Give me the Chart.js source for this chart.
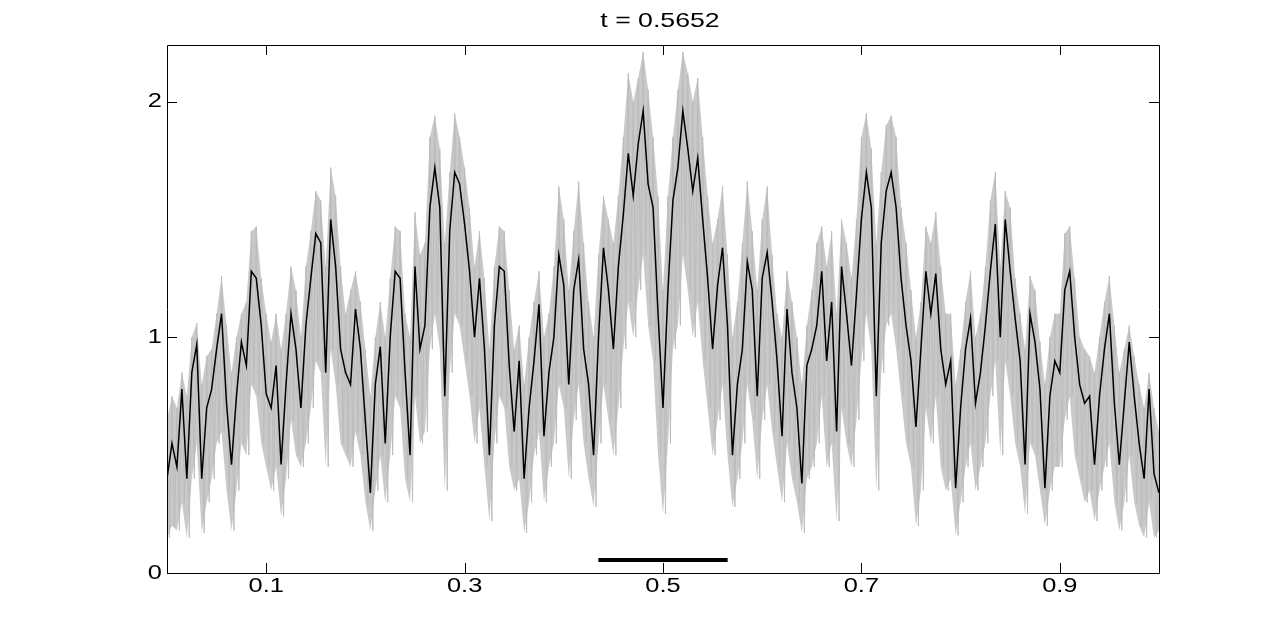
<!DOCTYPE html>
<html>
<head>
<meta charset="utf-8">
<script src="https://cdn.jsdelivr.net/npm/chart.js@4.4.0/dist/chart.umd.min.js"></script>
<style>
  html, body { margin: 0; padding: 0; background: #fff; }
  #wrap { width: 1281px; height: 644px; }
</style>
</head>
<body>
<div id="wrap"><canvas id="chart" width="1281" height="644"></canvas></div>
<script>
// sample spacing along x (0 .. 1)
const step = 0.005;

// black curve, one value per sample
const meanCurve = [
  0.40, 0.55, 0.45, 0.78, 0.40, 0.85, 0.97, 0.40, 0.70, 0.78,
  0.95, 1.10, 0.72, 0.46, 0.75, 0.98, 0.88, 1.28, 1.25, 1.05,
  0.76, 0.70, 0.88, 0.46, 0.80, 1.10, 0.95, 0.70, 1.05, 1.25,
  1.44, 1.40, 0.85, 1.50, 1.30, 0.95, 0.85, 0.80, 1.12, 0.95,
  0.64, 0.34, 0.80, 0.96, 0.55, 1.00, 1.28, 1.25, 0.85, 0.50,
  1.30, 0.95, 1.05, 1.55, 1.72, 1.55, 0.75, 1.45, 1.70, 1.65,
  1.48, 1.28, 1.00, 1.25, 0.95, 0.50, 1.05, 1.30, 1.28, 0.88,
  0.60, 0.90, 0.40, 0.70, 0.90, 1.14, 0.58, 0.85, 1.00, 1.35,
  1.22, 0.80, 1.20, 1.33, 0.95, 0.80, 0.50, 1.00, 1.38, 1.20,
  0.95, 1.30, 1.52, 1.78, 1.60, 1.82, 1.96, 1.65, 1.55, 1.10,
  0.70,
  1.20, 1.58, 1.72, 1.96, 1.80, 1.62, 1.76, 1.50, 1.25,
  0.95, 1.22, 1.38, 1.05, 0.50, 0.80, 0.95, 1.32, 1.20, 0.75,
  1.25, 1.36, 1.15, 0.90, 0.58, 1.12, 0.85, 0.70, 0.38, 0.88,
  0.95, 1.05, 1.28, 0.90, 1.15, 0.60, 1.30, 1.10, 0.88, 1.18,
  1.50, 1.70, 1.55, 0.75, 1.40, 1.62, 1.70, 1.55, 1.25, 1.05,
  0.90, 0.62, 0.95, 1.28, 1.10, 1.27, 0.95, 0.80, 0.90, 0.36,
  0.70, 0.95, 1.08, 0.72, 0.85, 1.05, 1.28, 1.48, 1.00, 1.50,
  1.28, 1.08, 0.90, 0.46, 1.10, 0.98, 0.78, 0.36, 0.75, 0.90,
  0.85, 1.20, 1.28, 1.00, 0.80, 0.72, 0.75, 0.46, 0.75, 0.95,
  1.10, 0.72, 0.46, 0.72, 0.98, 0.75, 0.55, 0.40, 0.78, 0.42,
  0.34
];

// grey band, top and bottom of the spikes at each sample
const bandHigh = [
  0.65, 0.75, 0.70, 0.85, 0.75, 1.00, 1.06, 0.80, 0.92, 0.95,
  1.10, 1.26, 1.05, 0.85, 1.00, 1.10, 1.15, 1.45, 1.47, 1.25,
  1.10, 0.98, 1.10, 0.95, 1.10, 1.30, 1.20, 1.00, 1.30, 1.45,
  1.62, 1.58, 1.30, 1.72, 1.60, 1.30, 1.10, 1.20, 1.28, 1.15,
  0.95, 0.75, 1.00, 1.15, 1.00, 1.25, 1.47, 1.45, 1.10, 1.00,
  1.53, 1.35, 1.40, 1.85, 1.94, 1.80, 1.40, 1.70, 1.95, 1.85,
  1.72, 1.55, 1.30, 1.45, 1.25, 0.95, 1.30, 1.47, 1.45, 1.20,
  0.95, 1.05, 0.80, 1.00, 1.15, 1.28, 1.00, 1.10, 1.30, 1.64,
  1.50, 1.20, 1.45, 1.66, 1.40, 1.15, 1.00, 1.35, 1.60, 1.50,
  1.40, 1.60, 1.85, 2.12, 2.00, 2.10, 2.21, 2.05, 1.85, 1.60,
  1.20,
  1.60, 1.85, 2.05, 2.21, 2.12, 2.00, 2.10, 1.85, 1.60,
  1.40, 1.50, 1.64, 1.35, 1.00, 1.15, 1.40, 1.66, 1.45, 1.20,
  1.50, 1.64, 1.35, 1.10, 1.00, 1.28, 1.15, 1.00, 0.80, 1.05,
  1.20, 1.40, 1.47, 1.30, 1.45, 1.10, 1.50, 1.40, 1.25, 1.50,
  1.85, 1.95, 1.80, 1.40, 1.70, 1.90, 1.94, 1.85, 1.55, 1.40,
  1.20, 1.00, 1.15, 1.47, 1.40, 1.53, 1.30, 1.10, 1.10, 0.80,
  0.95, 1.15, 1.28, 1.00, 1.10, 1.30, 1.58, 1.70, 1.30, 1.62,
  1.55, 1.25, 1.10, 0.95, 1.26, 1.20, 0.98, 0.80, 1.00, 1.10,
  1.10, 1.44, 1.47, 1.25, 1.00, 0.95, 0.92, 0.85, 1.00, 1.15,
  1.26, 1.05, 0.85, 0.95, 1.05, 0.92, 0.80, 0.70, 0.85, 0.70,
  0.60
];

const bandLow = [
  0.15, 0.20, 0.18, 0.30, 0.15, 0.40, 0.55, 0.17, 0.30, 0.40,
  0.55, 0.60, 0.35, 0.18, 0.35, 0.55, 0.50, 0.80, 0.75, 0.55,
  0.45, 0.35, 0.45, 0.24, 0.40, 0.65, 0.50, 0.45, 0.55, 0.70,
  0.90, 0.85, 0.45, 0.95, 0.80, 0.55, 0.50, 0.45, 0.60, 0.50,
  0.30, 0.18, 0.35, 0.50, 0.30, 0.50, 0.75, 0.70, 0.40, 0.30,
  0.75, 0.55, 0.60, 0.95, 1.10, 0.95, 0.35, 0.85, 1.10, 1.05,
  0.90, 0.75, 0.55, 0.70, 0.45, 0.22, 0.55, 0.75, 0.70, 0.45,
  0.35, 0.40, 0.17, 0.30, 0.50, 0.60, 0.30, 0.45, 0.55, 0.80,
  0.70, 0.40, 0.65, 0.80, 0.55, 0.40, 0.28, 0.55, 0.80, 0.65,
  0.50, 0.70, 0.95, 1.15, 1.00, 1.20, 1.35, 1.05, 0.90, 0.50,
  0.25,
  0.55, 0.95, 1.05, 1.35, 1.20, 1.00, 1.15, 0.90, 0.70,
  0.50, 0.65, 0.80, 0.50, 0.28, 0.40, 0.55, 0.80, 0.65, 0.40,
  0.65, 0.80, 0.60, 0.45, 0.30, 0.55, 0.40, 0.30, 0.17, 0.40,
  0.45, 0.55, 0.75, 0.45, 0.55, 0.22, 0.70, 0.55, 0.45, 0.65,
  0.90, 1.10, 0.95, 0.35, 0.85, 1.05, 1.10, 0.95, 0.75, 0.55,
  0.45, 0.20, 0.35, 0.70, 0.55, 0.75, 0.45, 0.35, 0.40, 0.16,
  0.30, 0.45, 0.55, 0.35, 0.45, 0.55, 0.75, 0.90, 0.50, 0.90,
  0.75, 0.55, 0.45, 0.25, 0.55, 0.50, 0.35, 0.20, 0.35, 0.45,
  0.45, 0.65, 0.75, 0.50, 0.40, 0.30, 0.35, 0.22, 0.35, 0.45,
  0.55, 0.30, 0.18, 0.30, 0.50, 0.30, 0.20, 0.15, 0.30, 0.15,
  0.18
];

// thick black marker under the middle peaks
const markerX = [0.4348, 0.5652];
const markerY = [0.055, 0.055];

const xTicks = [0.1, 0.3, 0.5, 0.7, 0.9];
const yTicks = [0, 1, 2];
const titleText = 't = 0.5652';

const FONT = '"Liberation Sans", Arial, Helvetica, sans-serif';
const STRETCH = 1.27; // the original figure's text is widened horizontally

// grey spikes: top at each sample, bottom half a step later
const spikePoints = [];
bandHigh.forEach((h, i) => {
  spikePoints.push({x: i * step, y: h});
  spikePoints.push({x: Math.min(1, (i + 0.5) * step), y: bandLow[i]});
});
const highPoints = bandHigh.map((v, i) => ({x: i * step, y: v}));
const lowPoints = bandLow.map((v, i) => ({x: i * step, y: v}));
const meanPoints = meanCurve.map((v, i) => ({x: i * step, y: v}));
const markerPoints = markerX.map((v, i) => ({x: v, y: markerY[i]}));

function wideText(ctx, text, x, y, align) {
  ctx.save();
  ctx.translate(x, y);
  ctx.scale(STRETCH, 1);
  ctx.textAlign = align;
  ctx.fillText(text, 0, 0);
  ctx.restore();
}

// box with inward ticks, tick labels and title
const matlabFrame = {
  id: 'matlabFrame',
  afterDraw(chart) {
    const {ctx, chartArea: a, scales: {x, y}} = chart;
    const len = 10;
    ctx.save();
    ctx.strokeStyle = '#000';
    ctx.lineWidth = 1;
    ctx.beginPath();
    ctx.rect(Math.round(a.left) + 0.5, Math.round(a.top) + 0.5,
             Math.round(a.right - a.left), Math.round(a.bottom - a.top));
    xTicks.forEach(v => {
      const px = Math.round(x.getPixelForValue(v)) + 0.5;
      ctx.moveTo(px, a.bottom); ctx.lineTo(px, a.bottom - len);
      ctx.moveTo(px, a.top); ctx.lineTo(px, a.top + len);
    });
    yTicks.forEach(v => {
      const py = Math.round(y.getPixelForValue(v)) + 0.5;
      ctx.moveTo(a.left, py); ctx.lineTo(a.left + len, py);
      ctx.moveTo(a.right, py); ctx.lineTo(a.right - len, py);
    });
    ctx.stroke();

    ctx.fillStyle = '#000';
    ctx.textBaseline = 'middle';
    ctx.font = '20px ' + FONT;
    xTicks.forEach(v => wideText(ctx, String(v), x.getPixelForValue(v), a.bottom + 13, 'center'));
    yTicks.forEach(v => wideText(ctx, String(v), a.left - 5, y.getPixelForValue(v), 'right'));

    ctx.font = '21px ' + FONT;
    wideText(ctx, titleText, (a.left + a.right) / 2 - 3, 21, 'center');
    ctx.restore();
  }
};

new Chart(document.getElementById('chart'), {
  type: 'line',
  data: {
    datasets: [
      {data: highPoints, borderWidth: 0, backgroundColor: '#c9c9c9', fill: '+1', order: 5},
      {data: lowPoints, borderWidth: 0, fill: false, order: 5},
      {data: spikePoints, borderColor: '#bcbcbc', borderWidth: 1, order: 3},
      {data: meanPoints, borderColor: '#000', borderWidth: 1.5, order: 2},
      {data: markerPoints, borderColor: '#000', borderWidth: 4, order: 1}
    ]
  },
  options: {
    responsive: false,
    animation: false,
    parsing: false,
    layout: { padding: { left: 0, right: 122, top: 45, bottom: 0 } },
    elements: {
      point: { radius: 0 },
      line: { tension: 0, borderCapStyle: 'butt', borderJoinStyle: 'miter' }
    },
    plugins: {
      legend: { display: false },
      tooltip: { enabled: false },
      title: { display: false },
      filler: { propagate: false }
    },
    scales: {
      x: {
        type: 'linear',
        min: 0,
        max: 1,
        grid: { display: false, drawTicks: false },
        border: { display: false },
        afterBuildTicks: s => { s.ticks = xTicks.map(v => ({value: v})); },
        afterFit: s => { s.height = 71; },
        ticks: { display: false }
      },
      y: {
        type: 'linear',
        min: 0,
        max: 2.24,
        grid: { display: false, drawTicks: false },
        border: { display: false },
        afterBuildTicks: s => { s.ticks = yTicks.map(v => ({value: v})); },
        afterFit: s => { s.width = 167; },
        ticks: { display: false }
      }
    }
  },
  plugins: [matlabFrame]
});
</script>
</body>
</html>
